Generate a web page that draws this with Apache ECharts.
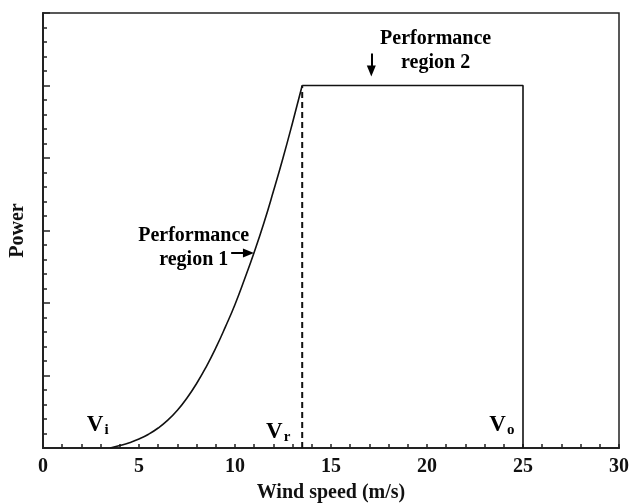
<!DOCTYPE html>
<html><head><meta charset="utf-8">
<script src="https://cdn.jsdelivr.net/npm/echarts@6/dist/echarts.min.js"></script>
<style>html,body{margin:0;padding:0;background:#fff}#c{width:633px;height:503px}</style>
</head><body><div id="c"></div>
<script>
// Power curve (region 1): wind speed vs power (arbitrary units)
const curveSpeed = [3.5, 4, 4.5, 5, 5.5, 6, 6.5, 7, 7.5, 8, 8.5, 9, 9.5, 10, 10.5, 11, 11.5, 12, 12.5, 13, 13.5];
const curvePower = [0, 0.17, 0.37, 0.62, 0.95, 1.38, 1.92, 2.6, 3.45, 4.45, 5.6, 6.9, 8.35, 9.9, 11.65, 13.5, 15.5, 17.7, 20.0, 22.45, 25];
// Rated region (region 2)
const ratedSpeed = [13.5, 25];
const ratedPower = 25;
const cutOutSpeed = 25;
const xTicks = [0, 5, 10, 15, 20, 25, 30];
// Annotation labels and anchors (data coordinates)
const speedLabels = [
  {name: 'i', x: 2.85, y: 1.6},
  {name: 'r', x: 12.25, y: 1.1},
  {name: 'o', x: 23.9, y: 1.6}
];
const regionLabels = [
  {text: 'Performance\nregion 1', x: 7.85, y: 13.8},
  {text: 'Performance\nregion 2', x: 20.45, y: 27.4}
];
const arrows = [
  [[9.8, 13.45], [10.7, 13.45]],
  [[17.1, 27.2], [17.1, 26.0]]
];

const FONT = '"Liberation Serif", "DejaVu Serif", serif';
const chart = echarts.init(document.getElementById('c'));
chart.setOption({
  animation: false,
  grid: {left: 43, right: 14, top: 13, bottom: 55, show: true, borderColor: '#222', borderWidth: 1.5,
         containLabel: false, outerBoundsMode: 'none'},
  xAxis: {
    type: 'value', min: 0, max: 30, interval: 1,
    name: 'Wind speed (m/s)', nameLocation: 'middle', nameGap: 35,
    nameTextStyle: {fontFamily: FONT, fontWeight: 'bold', fontSize: 20, color: '#111'},
    axisLine: {lineStyle: {color: '#222', width: 2}},
    axisTick: {inside: true, length: 4, lineStyle: {color: '#222', width: 1.5}},
    axisLabel: {
      fontFamily: FONT, fontWeight: 'bold', fontSize: 20, color: '#111', margin: 9,
      formatter: v => xTicks.includes(v) ? String(v) : ''
    },
    splitLine: {show: false}
  },
  yAxis: {
    type: 'value', min: 0, max: 30, interval: 5,
    name: 'Power', nameLocation: 'middle', nameGap: 15, nameRotate: 90,
    nameTextStyle: {fontFamily: FONT, fontWeight: 'bold', fontSize: 20, color: '#111'},
    axisLine: {show: true, lineStyle: {color: '#222', width: 2}},
    axisTick: {inside: true, length: 7, lineStyle: {color: '#222', width: 1.5}},
    minorTick: {show: true, splitNumber: 5, length: 4, lineStyle: {color: '#222', width: 1.5}},
    axisLabel: {show: false},
    splitLine: {show: false}
  },
  series: [
    {
      type: 'line', data: curveSpeed.map((s, i) => [s, curvePower[i]]),
      smooth: true, symbol: 'none', lineStyle: {color: '#111', width: 1.6}
    },
    {
      type: 'line', data: [[ratedSpeed[0], ratedPower], [ratedSpeed[1], ratedPower], [cutOutSpeed, 0]],
      symbol: 'none', lineStyle: {color: '#111', width: 1.6}
    },
    {
      type: 'line', data: [[ratedSpeed[0], 0], [ratedSpeed[0], ratedPower]],
      symbol: 'none', lineStyle: {color: '#111', width: 2, type: [6, 4]}
    },
    {
      type: 'scatter', symbolSize: 0, silent: true, itemStyle: {opacity: 1},
      data: speedLabels.map(d => ({value: [d.x, d.y], name: d.name})),
      label: {
        show: true, position: 'inside', opacity: 1,
        formatter: p => '{v|V}{s|' + p.name + '}',
        rich: {
          v: {fontFamily: FONT, fontWeight: 'bold', fontSize: 23, color: '#000'},
          s: {fontFamily: FONT, fontWeight: 'bold', fontSize: 15, color: '#000', padding: [11, 0, 0, 1]}
        }
      },
      markLine: {
        silent: true, symbol: ['none', 'triangle'], symbolSize: [9, 11],
        lineStyle: {color: '#000', width: 2, type: 'solid'},
        label: {show: false},
        data: arrows.map(a => [{coord: a[0]}, {coord: a[1]}])
      }
    },
    {
      type: 'scatter', symbolSize: 0, silent: true, itemStyle: {opacity: 1},
      data: regionLabels.map(d => ({value: [d.x, d.y], name: d.text})),
      label: {
        show: true, position: 'inside', formatter: p => p.name, align: 'center', opacity: 1,
        fontFamily: FONT, fontWeight: 'bold', fontSize: 20, lineHeight: 24, color: '#000'
      }
    }
  ]
});
</script></body></html>
